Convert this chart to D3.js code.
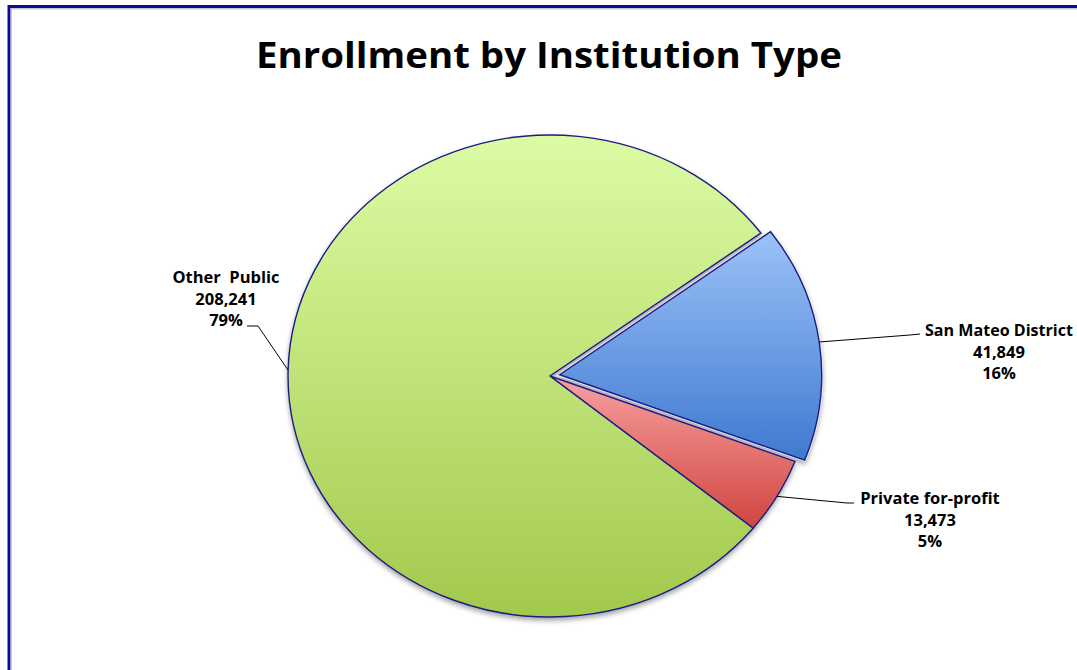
<!DOCTYPE html>
<html>
<head>
<meta charset="utf-8">
<script src="https://cdn.jsdelivr.net/npm/d3@7"></script>
<style>
  html, body { margin: 0; padding: 0; background: #ffffff; }
  svg { display: block; }
</style>
</head>
<body>
<svg id="chart" width="1077" height="670"></svg>
<script>
// ---- data ----
const title = "Enrollment by Institution Type";
const categories = ["San Mateo District", "Private for-profit", "Other Public"];
const values = [41849, 13473, 208241];
const sliceColors = [
  ["#9cc2f8", "#3f79d0"],   // blue gradient top -> bottom
  ["#f7a0a0", "#d0453f"],   // red
  ["#dcfca4", "#a2c94c"]    // green
];
const exploded = [true, false, false];

// ---- layout ----
const W = 1077, H = 670;
const cx = 550, cy = 376;
const radius = 241;
const sx = 1.087;              // horizontal stretch of the pie
const explodeDist = 9;
const startDeg = 53.6;         // first slice starts here (clockwise from 12 o'clock)
const labelLayout = [
  { elbow: [910, 335], end: [920, 334], tx: 999, ty: 336 },
  { elbow: [847, 503], end: [854, 503], tx: 930, ty: 504 },
  { elbow: [258, 326], end: [247, 326], tx: 226, ty: 283 }
];
const lineGap = 21.5;

const svg = d3.select("#chart");
const defs = svg.append("defs");

// border
svg.append("rect").attr("x", 9).attr("y", 6.5).attr("width", 1200).attr("height", 800)
  .attr("fill", "none").attr("stroke", "#0a0a9a").attr("stroke-width", 3);
svg.append("rect").attr("x", 11.2).attr("y", 8.8).attr("width", 1200).attr("height", 800)
  .attr("fill", "none").attr("stroke", "#b8b8c0").attr("stroke-width", 1.2);

// title
svg.append("text")
  .attr("x", 549).attr("y", 68)
  .attr("text-anchor", "middle")
  .attr("font-family", "'Open Sans', sans-serif")
  .attr("font-weight", 700)
  .attr("font-size", 36)
  .attr("textLength", 586)
  .attr("lengthAdjust", "spacingAndGlyphs")
  .attr("fill", "#000")
  .text(title);

// gradients
sliceColors.forEach((c, i) => {
  const g = defs.append("linearGradient").attr("id", "grad" + i)
    .attr("x1", 0).attr("y1", 0).attr("x2", 0).attr("y2", 1);
  g.append("stop").attr("offset", "0%").attr("stop-color", c[0]);
  g.append("stop").attr("offset", "100%").attr("stop-color", c[1]);
});
const shadow = defs.append("filter").attr("id", "shadow")
  .attr("x", "-20%").attr("y", "-20%").attr("width", "140%").attr("height", "140%");
shadow.append("feDropShadow").attr("dx", 0).attr("dy", 3).attr("stdDeviation", 2.5)
  .attr("flood-color", "#000").attr("flood-opacity", 0.35);

const pie = d3.pie().sort(null).value(d => d)
  .startAngle(startDeg * Math.PI / 180)
  .endAngle(startDeg * Math.PI / 180 + 2 * Math.PI);
const arcs = pie(values);
const arc = d3.arc().innerRadius(0).outerRadius(radius);

const total = d3.sum(values);
const fmt = d3.format(",");

function offsetOf(d, i) {
  if (!exploded[i]) return [0, 0];
  const m = (d.startAngle + d.endAngle) / 2;
  return [Math.sin(m) * explodeDist * sx, -Math.cos(m) * explodeDist];
}

const gPie = svg.append("g").attr("filter", "url(#shadow)");
gPie.selectAll("path.slice")
  .data(arcs)
  .join("path")
  .attr("class", "slice")
  .attr("transform", (d, i) => {
    const o = offsetOf(d, i);
    return `translate(${cx + o[0]},${cy + o[1]}) scale(${sx},1)`;
  })
  .attr("d", arc)
  .attr("fill", (d, i) => `url(#grad${i})`)
  .attr("stroke", "#1c1c84")
  .attr("stroke-width", 1.4)
  .attr("stroke-linejoin", "miter")
  .attr("vector-effect", "non-scaling-stroke");

// light edge around the exploded slice
gPie.selectAll("path.edge")
  .data(arcs.filter((d, i) => exploded[i]))
  .join("path")
  .attr("class", "edge")
  .attr("transform", d => {
    const i = arcs.indexOf(d);
    const o = offsetOf(d, i);
    return `translate(${cx + o[0]},${cy + o[1]}) scale(${sx},1)`;
  })
  .attr("d", arc)
  .attr("fill", "none")
  .attr("stroke", "#e8e8f0")
  .attr("stroke-width", 2.5)
  .attr("vector-effect", "non-scaling-stroke")
  .lower();

// leader lines and labels
const gLab = svg.append("g");
arcs.forEach((d, i) => {
  const m = (d.startAngle + d.endAngle) / 2;
  const o = offsetOf(d, i);
  const p0 = [cx + o[0] + Math.sin(m) * radius * sx, cy + o[1] - Math.cos(m) * radius];
  const L = labelLayout[i];
  gLab.append("path")
    .attr("d", d3.line()([p0, L.elbow, L.end]))
    .attr("fill", "none").attr("stroke", "#000").attr("stroke-width", 1);
  const pct = Math.round(values[i] / total * 100) + "%";
  const lines = [categories[i] === "Other Public" ? "Other\u00A0 Public" : categories[i], fmt(values[i]), pct];
  const t = gLab.append("text")
    .attr("text-anchor", "middle")
    .attr("font-family", "'Open Sans', sans-serif")
    .attr("font-weight", 700)
    .attr("font-size", 16.5)
    .attr("fill", "#000");
  lines.forEach((s, k) => {
    const ts = t.append("tspan").attr("x", L.tx).attr("y", L.ty + k * lineGap).text(s);
    if (i === 0 && k === 0) ts.attr("textLength", 148).attr("lengthAdjust", "spacingAndGlyphs");
  });
});
</script>
</body>
</html>
